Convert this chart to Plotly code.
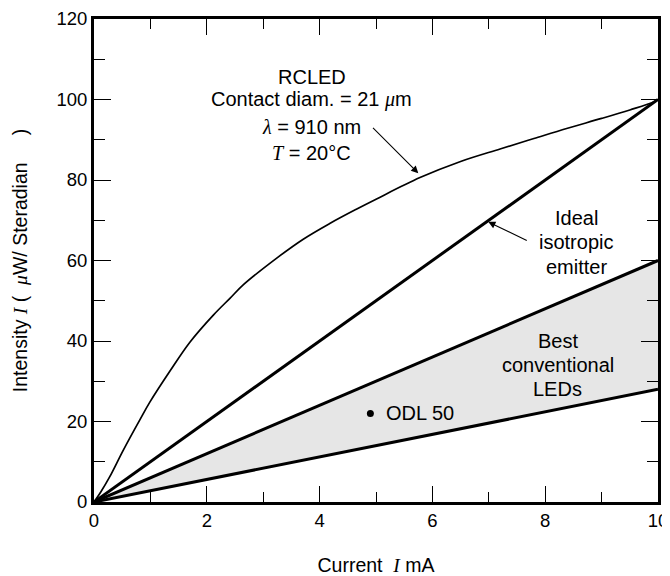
import plotly.graph_objects as go

rcled_x = [0, 0.12, 0.28, 0.52, 0.82, 0.99, 1.35, 1.70, 2.12, 2.41, 2.65, 3.24, 3.71,
           4.18, 4.66, 5.01, 5.78, 6.5, 7.2, 7.8, 8.38, 9.0, 9.5, 9.91, 10]
rcled_y = [0, 2.5, 6.3, 12.9, 20.6, 24.8, 32.6, 39.7, 46.5, 50.6, 54.0, 60.6, 65.3,
           69.2, 72.8, 75.3, 80.6, 84.6, 87.7, 90.3, 92.8, 95.3, 97.4, 99.3, 100]

line_x = [0, 10]
ideal_y = [0, 100]
conv_upper_y = [0, 60]
conv_lower_y = [0, 28]

odl_x = [4.9]
odl_y = [22]

serif = "Liberation Serif, Times New Roman, serif"
sans = "Liberation Sans, Arial, Helvetica, sans-serif"

def it(s):
    return f'<span style="font-family:{serif}"><i>{s}</i></span>'

fig = go.Figure()

fig.add_trace(go.Scatter(x=line_x, y=conv_lower_y, mode="lines",
                         line=dict(color="black", width=3), showlegend=False))
fig.add_trace(go.Scatter(x=line_x, y=conv_upper_y, mode="lines", fill="tonexty",
                         fillcolor="#e6e6e6",
                         line=dict(color="black", width=3), showlegend=False))
fig.add_trace(go.Scatter(x=line_x, y=ideal_y, mode="lines",
                         line=dict(color="black", width=3), showlegend=False))
fig.add_trace(go.Scatter(x=rcled_x, y=rcled_y, mode="lines",
                         line=dict(color="black", width=1.7, shape="spline", smoothing=1.0),
                         showlegend=False))
fig.add_trace(go.Scatter(x=odl_x, y=odl_y, mode="markers",
                         marker=dict(color="black", size=7), showlegend=False))

ann_font = dict(family=sans, size=20, color="black")
annotations = [
    dict(x=3.86, y=105.6, text="RCLED", showarrow=False, font=ann_font),
    dict(x=3.86, y=99.9, text=f"Contact diam. = 21 {it('μ')}m", showarrow=False, font=ann_font),
    dict(x=3.86, y=93.2, text=f"{it('λ')} = 910 nm", showarrow=False, font=ann_font),
    dict(x=3.86, y=86.7, text=f"{it('T')} = 20°C", showarrow=False, font=ann_font),
    dict(x=8.55, y=70.5, text="Ideal", showarrow=False, font=ann_font),
    dict(x=8.55, y=64.5, text="isotropic", showarrow=False, font=ann_font),
    dict(x=8.55, y=58.5, text="emitter", showarrow=False, font=ann_font),
    dict(x=8.22, y=40.0, text="Best", showarrow=False, font=ann_font),
    dict(x=8.22, y=34.0, text="conventional", showarrow=False, font=ann_font),
    dict(x=8.22, y=28.0, text="LEDs", showarrow=False, font=ann_font),
    dict(x=5.14, y=22, text="ODL 50", showarrow=False, xanchor="left", font=ann_font),
    # arrows
    dict(x=5.75, y=81.7, ax=4.92, ay=93.3, axref="x", ayref="y", xref="x", yref="y",
         text="", showarrow=True, arrowhead=2, arrowsize=1.3, arrowwidth=1.1,
         arrowcolor="black", standoff=0),
    dict(x=6.99, y=69.6, ax=7.7, ay=64.8, axref="x", ayref="y", xref="x", yref="y",
         text="", showarrow=True, arrowhead=2, arrowsize=1.3, arrowwidth=1.1,
         arrowcolor="black", standoff=0),
]

# the page body adds an 8px offset, so the figure is sized to fill the rest of the window
fig.update_layout(
    width=662, height=568,
    margin=dict(l=86, r=12, t=11, b=74),
    plot_bgcolor="white", paper_bgcolor="white",
    font=dict(family=sans, size=18.5, color="black"),
    annotations=annotations,
)

fig.update_xaxes(
    range=[0, 10], dtick=2, tick0=0, automargin=False,
    showgrid=False, zeroline=False,
    showline=True, linewidth=3, linecolor="black", mirror="ticks",
    ticks="inside", ticklen=16, tickwidth=1.3, tickcolor="black",
    minor=dict(dtick=1, ticks="inside", ticklen=10, tickwidth=1.3, tickcolor="black"),
    title=dict(text=f"Current&nbsp;&nbsp;{it('I')} mA", standoff=30, font=dict(size=19.5)),
    tickfont=dict(size=18.5),
)
fig.update_yaxes(
    range=[0, 120], dtick=20, tick0=0, automargin=False,
    showgrid=False, zeroline=False,
    showline=True, linewidth=3, linecolor="black", mirror="ticks",
    ticks="inside", ticklen=17, tickwidth=1.3, tickcolor="black",
    minor=dict(dtick=10, ticks="inside", ticklen=11, tickwidth=1.3, tickcolor="black"),
    title=dict(text=f"Intensity {it('I')} (&nbsp;&nbsp;{it('μ')}W/ Steradian&nbsp;&nbsp;&nbsp;&nbsp;&nbsp;)",
               standoff=24, font=dict(size=19.5)),
    tickfont=dict(size=18.5),
)

fig.write_html("out.html")
